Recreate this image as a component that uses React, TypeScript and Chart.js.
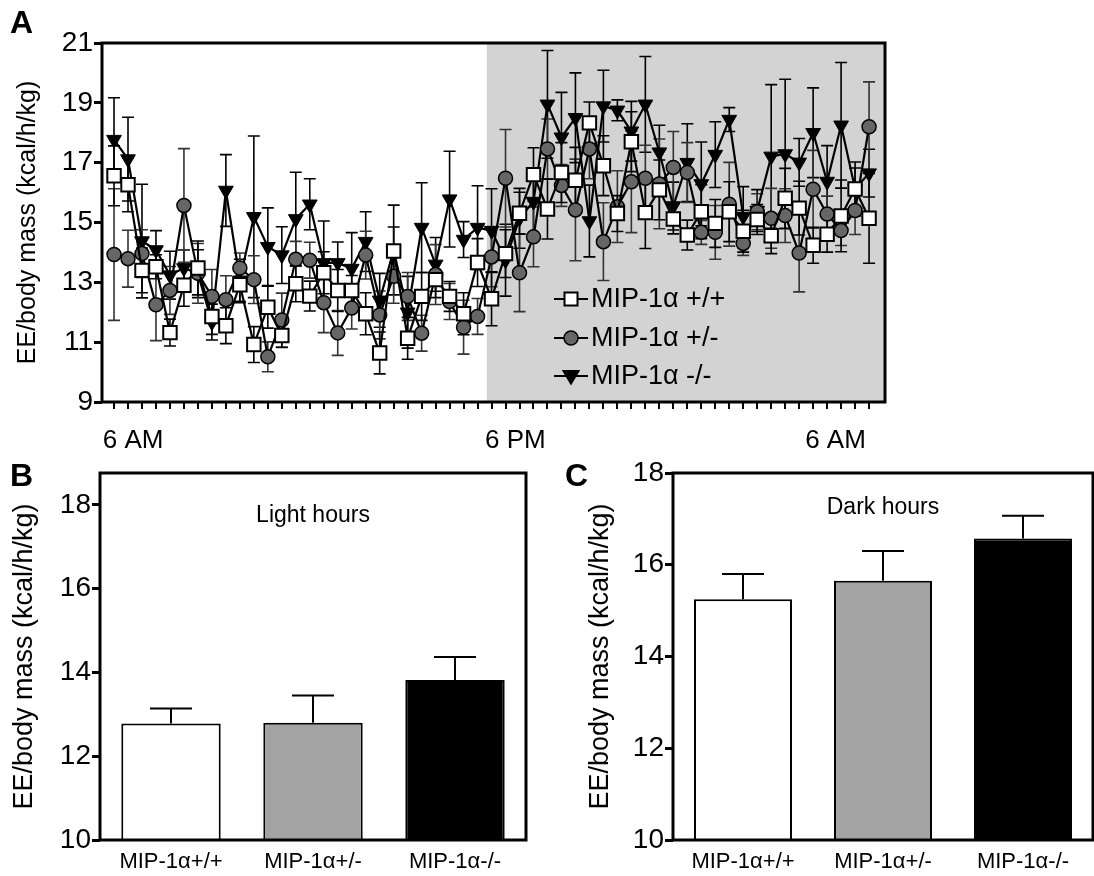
import React, { useEffect, useRef } from 'react';
import { Chart, registerables } from 'chart.js';
Chart.register(...registerables);

const FONT = '"Liberation Sans", Arial, Helvetica, sans-serif';

// ---------- Panel A data ----------
const timeIndex = Array.from({ length: 55 }, (_, i) => i);
const darkStart = 26.66;
const xTickLabels = ['6 AM', '6 PM', '6 AM'];
const xTickPos = [1.36, 28.7, 51.6];
const yTicksA = [9, 11, 13, 15, 17, 19, 21];

const wtMean = [16.56, 16.26, 13.40, 13.52, 11.32, 12.90, 13.48, 11.86, 11.55, 12.92, 10.92, 12.17, 11.22, 12.95, 12.54, 13.32, 12.73, 12.73, 11.95, 10.64, 14.05, 11.13, 12.53, 13.09, 12.53, 11.95, 13.66, 12.45, 13.96, 15.31, 16.60, 15.45, 16.67, 16.41, 18.33, 16.90, 15.30, 17.70, 15.33, 16.09, 15.12, 14.58, 15.36, 14.97, 15.36, 14.71, 15.10, 14.56, 15.81, 15.48, 14.24, 14.61, 15.22, 16.12, 15.14];
const wtErr = [1.0, 0.9, 0.75, 0.4, 0.45, 0.7, 0.9, 0.6, 0.6, 0.6, 0.6, 0.7, 0.4, 0.6, 0.5, 0.7, 0.7, 0.5, 0.7, 0.7, 0.8, 0.7, 0.8, 0.6, 0.5, 0.7, 0.8, 0.9, 0.8, 0.7, 0.9, 1.0, 1.0, 1.1, 0.7, 1.0, 0.6, 1.0, 1.2, 1.0, 0.5, 0.5, 0.9, 0.8, 1.0, 0.7, 0.5, 0.6, 1.0, 0.9, 0.6, 0.6, 1.2, 0.9, 1.5];
const hetMean = [13.93, 13.79, 13.96, 12.25, 12.73, 15.57, 13.30, 12.53, 12.42, 13.48, 13.09, 10.51, 11.74, 13.77, 13.74, 12.32, 11.31, 12.14, 13.91, 11.91, 13.20, 12.53, 11.30, 13.26, 12.36, 11.50, 11.86, 13.85, 16.48, 13.32, 14.52, 17.46, 16.24, 15.42, 17.46, 14.36, 15.53, 16.36, 16.48, 16.29, 16.84, 16.67, 14.67, 14.67, 15.61, 14.30, 15.36, 15.14, 15.23, 13.98, 16.11, 15.28, 14.73, 15.40, 18.20];
const hetErr = [2.2, 0.95, 0.8, 1.2, 0.8, 1.9, 1.0, 0.9, 0.8, 0.5, 0.8, 0.5, 0.9, 0.6, 0.6, 1.0, 0.75, 0.7, 0.8, 0.8, 0.9, 0.8, 0.6, 1.0, 0.6, 0.9, 0.6, 1.0, 1.63, 1.3, 1.0, 1.0, 0.7, 1.7, 1.0, 1.3, 1.2, 1.7, 1.1, 1.5, 1.2, 1.0, 0.4, 0.9, 1.4, 0.4, 0.6, 1.0, 0.9, 1.3, 1.3, 0.6, 0.5, 0.8, 1.5];
const koMean = [17.77, 17.12, 14.38, 14.08, 13.24, 13.48, 13.29, 11.67, 16.07, 13.07, 15.19, 14.19, 13.91, 15.12, 15.61, 13.65, 13.65, 13.46, 14.36, 12.40, 14.08, 12.00, 14.83, 13.60, 15.78, 14.43, 14.83, 14.73, 13.74, 15.14, 15.70, 18.95, 17.85, 18.50, 15.05, 18.89, 18.75, 18.05, 18.95, 17.35, 15.55, 17.00, 16.29, 17.27, 18.44, 15.20, 15.40, 17.21, 17.29, 17.01, 18.00, 16.37, 18.25, 16.12, 16.65];
const koErr = [1.4, 1.4, 1.9, 0.65, 0.8, 0.6, 0.8, 0.6, 1.2, 0.7, 2.7, 1.3, 0.95, 1.56, 0.85, 1.4, 0.7, 1.2, 1.0, 0.9, 1.5, 1.2, 1.5, 0.9, 1.6, 0.6, 1.4, 1.4, 1.2, 1.0, 1.1, 1.8, 1.5, 1.5, 1.2, 1.2, 0.35, 1.0, 1.6, 0.9, 0.8, 1.3, 1.4, 1.1, 0.4, 1.0, 0.7, 2.4, 2.5, 0.8, 1.5, 1.2, 2.1, 0.7, 0.8];
const seriesLabels = ['MIP-1\u03b1 +/+', 'MIP-1\u03b1 +/-', 'MIP-1\u03b1 -/-'];

// ---------- Panels B / C data ----------
const barCategories = ['MIP-1\u03b1+/+', 'MIP-1\u03b1+/-', 'MIP-1\u03b1-/-'];
const lightMean = [12.78, 12.80, 13.82];
const lightErr = [0.36, 0.65, 0.55];
const darkMean = [15.25, 15.65, 16.57];
const darkErr = [0.55, 0.65, 0.50];
const barTicks = [10, 12, 14, 16, 18];

const seriesMeans = [wtMean, hetMean, koMean];
const seriesErrs = [wtErr, hetErr, koErr];

type Marker = 'rect' | 'circle' | 'tri';
const markerKinds: Marker[] = ['rect', 'circle', 'tri'];

function drawMarker(ctx: CanvasRenderingContext2D, kind: Marker, x: number, y: number) {
  ctx.save();
  ctx.lineWidth = 2;
  ctx.strokeStyle = '#000';
  ctx.beginPath();
  if (kind === 'rect') {
    ctx.fillStyle = '#fff';
    ctx.rect(x - 6.5, y - 6.5, 13, 13);
  } else if (kind === 'circle') {
    ctx.fillStyle = '#666';
    ctx.lineWidth = 1.5;
    ctx.arc(x, y, 7, 0, Math.PI * 2);
  } else {
    ctx.fillStyle = '#000';
    ctx.moveTo(x - 7.5, y - 5);
    ctx.lineTo(x + 7.5, y - 5);
    ctx.lineTo(x, y + 7.5);
    ctx.closePath();
  }
  ctx.fill();
  ctx.stroke();
  ctx.restore();
}

function PanelA() {
  const ref = useRef<HTMLCanvasElement>(null);
  useEffect(() => {
    if (!ref.current) return;
    const shade = {
      id: 'shade',
      beforeDatasetsDraw(chart: any) {
        const { ctx, chartArea, scales } = chart;
        const x0 = scales.x.getPixelForValue(darkStart);
        ctx.save();
        ctx.fillStyle = '#d3d3d3';
        ctx.fillRect(x0, chartArea.top, chartArea.right - x0, chartArea.bottom - chartArea.top);
        ctx.restore();
      },
    };
    const errBars = {
      id: 'errBars',
      beforeDatasetsDraw(chart: any) {
        const { ctx, scales } = chart;
        const colors = ['#000', '#333', '#000'];
        for (let d = seriesMeans.length - 1; d >= 0; d--) {
          const means = seriesMeans[d];
          const errs = seriesErrs[d];
          ctx.save();
          ctx.strokeStyle = colors[d];
          ctx.lineWidth = 1.6;
          ctx.beginPath();
          means.forEach((m, i) => {
            const px = scales.x.getPixelForValue(timeIndex[i]);
            const t = scales.y.getPixelForValue(m + errs[i]);
            const b = scales.y.getPixelForValue(m - errs[i]);
            ctx.moveTo(px, t); ctx.lineTo(px, b);
            ctx.moveTo(px - 6, t); ctx.lineTo(px + 6, t);
            ctx.moveTo(px - 6, b); ctx.lineTo(px + 6, b);
          });
          ctx.stroke();
          ctx.restore();
        }
      },
    };
    const frame = {
      id: 'frame',
      afterDraw(chart: any) {
        const { ctx, chartArea, scales } = chart;
        ctx.save();
        ctx.strokeStyle = '#000';
        ctx.lineWidth = 3;
        ctx.strokeRect(chartArea.left, chartArea.top, chartArea.right - chartArea.left, chartArea.bottom - chartArea.top);
        ctx.fillStyle = '#000';
        ctx.font = `26px ${FONT}`;
        ctx.textAlign = 'center';
        ctx.textBaseline = 'middle';
        xTickLabels.forEach((lab, i) => {
          ctx.fillText(lab, scales.x.getPixelForValue(xTickPos[i]), chartArea.bottom + 39);
        });
        // legend
        const lx = chartArea.left + 452;
        const rows = [256, 295, 333];
        ctx.textAlign = 'left';
        ctx.font = `27px ${FONT}`;
        seriesLabels.forEach((lab, i) => {
          const yy = chartArea.top + rows[i];
          ctx.save();
          ctx.lineWidth = 2;
          ctx.strokeStyle = '#000';
          ctx.beginPath();
          ctx.moveTo(lx, yy); ctx.lineTo(lx + 34, yy);
          ctx.stroke();
          ctx.restore();
          drawMarker(ctx, markerKinds[i], lx + 17, yy);
          ctx.fillStyle = '#000';
          ctx.fillText(lab, lx + 37, yy + 1);
        });
        ctx.restore();
      },
    };
    const mk = (i: number) => timeIndex.map((x, j) => ({ x, y: seriesMeans[i][j] }));
    const chart = new Chart(ref.current, {
      type: 'line',
      data: {
        datasets: [
          { label: seriesLabels[0], data: mk(0), pointStyle: 'rect', pointRadius: 9.5, pointBackgroundColor: '#fff', pointBorderColor: '#000', pointBorderWidth: 2, borderColor: '#000', borderWidth: 2.2, tension: 0 },
          { label: seriesLabels[1], data: mk(1), pointStyle: 'circle', pointRadius: 7, pointBackgroundColor: '#666', pointBorderColor: '#000', pointBorderWidth: 1.5, borderColor: '#000', borderWidth: 2.2, tension: 0 },
          { label: seriesLabels[2], data: mk(2), pointStyle: 'triangle', pointRotation: 180, pointRadius: 8.5, pointBackgroundColor: '#000', pointBorderColor: '#000', pointBorderWidth: 1, borderColor: '#000', borderWidth: 2.2, tension: 0 },
        ] as any,
      },
      options: {
        animation: false,
        responsive: false,
        events: [],
        layout: { padding: { left: 0, right: 209, top: 43, bottom: 0 } },
        scales: {
          x: {
            type: 'linear',
            min: -0.86,
            max: 55.14,
            afterBuildTicks: (ax: any) => { ax.ticks = timeIndex.map((v) => ({ value: v })); },
            afterFit: (s: any) => { s.height = 58; },
            grid: { drawOnChartArea: false, tickLength: 7, lineWidth: 2, color: '#000' },
            border: { display: false },
            ticks: { display: false, autoSkip: false },
          },
          y: {
            min: 9,
            max: 21,
            afterBuildTicks: (ax: any) => { ax.ticks = yTicksA.map((v) => ({ value: v })); },
            afterFit: (s: any) => { s.width = 102; },
            grid: { drawOnChartArea: false, tickLength: 8, lineWidth: 3, color: '#000' },
            border: { display: false },
            ticks: { font: { family: FONT, size: 28 }, color: '#000', padding: 1 },
            title: { display: true, text: 'EE/body mass (kcal/h/kg)', font: { family: FONT, size: 25 }, color: '#000', padding: { top: 13, bottom: 0 } },
          },
        },
        plugins: { legend: { display: false }, tooltip: { enabled: false } },
      } as any,
      plugins: [shade, errBars, frame],
    });
    return () => chart.destroy();
  }, []);
  return <canvas ref={ref} width={1094} height={460} style={{ position: 'absolute', left: 0, top: 0, width: 1094, height: 460 }} />;
}

function BarPanel(props: { means: number[]; errs: number[]; title: string; left: number; axisWidth: number; titlePad: number; padRight: number; yMax: number; titleDy: number }) {
  const ref = useRef<HTMLCanvasElement>(null);
  useEffect(() => {
    if (!ref.current) return;
    const { means, errs, title } = props;
    const deco = {
      id: 'deco',
      afterDatasetsDraw(chart: any) {
        const { ctx, scales } = chart;
        ctx.save();
        ctx.strokeStyle = '#000';
        ctx.lineWidth = 2;
        ctx.beginPath();
        means.forEach((m, i) => {
          const px = scales.x.getPixelForValue(i);
          const t = scales.y.getPixelForValue(m + errs[i]);
          const b = scales.y.getPixelForValue(m);
          ctx.moveTo(px, t); ctx.lineTo(px, b);
          ctx.moveTo(px - 21, t); ctx.lineTo(px + 21, t);
        });
        ctx.stroke();
        ctx.restore();
      },
      afterDraw(chart: any) {
        const { ctx, chartArea } = chart;
        ctx.save();
        ctx.strokeStyle = '#000';
        ctx.lineWidth = 3;
        ctx.strokeRect(chartArea.left, chartArea.top, chartArea.right - chartArea.left, chartArea.bottom - chartArea.top);
        ctx.fillStyle = '#000';
        ctx.font = `23px ${FONT}`;
        ctx.textAlign = 'center';
        ctx.textBaseline = 'middle';
        ctx.fillText(title, (chartArea.left + chartArea.right) / 2, chartArea.top + props.titleDy);
        ctx.restore();
      },
    };
    const chart = new Chart(ref.current, {
      type: 'bar',
      data: {
        labels: barCategories,
        datasets: [
          { data: means, backgroundColor: ['#fff', '#a3a3a3', '#000'], borderColor: '#000', borderWidth: 2, barPercentage: 0.7, categoryPercentage: 1 },
        ],
      },
      options: {
        animation: false,
        responsive: false,
        events: [],
        layout: { padding: { left: 0, right: props.padRight, top: 18, bottom: 0 } },
        scales: {
          x: {
            afterFit: (s: any) => { s.height = 36; },
            grid: { display: false, drawTicks: false },
            border: { display: false },
            ticks: { font: { family: FONT, size: 22 }, color: '#000', padding: 9 },
          },
          y: {
            min: 10,
            max: props.yMax,
            afterBuildTicks: (ax: any) => { ax.ticks = barTicks.map((v) => ({ value: v })); },
            afterFit: (s: any) => { s.width = props.axisWidth; },
            grid: { drawOnChartArea: false, tickLength: 8, lineWidth: 3, color: '#000' },
            border: { display: false },
            ticks: { font: { family: FONT, size: 28 }, color: '#000', padding: 1 },
            title: { display: true, text: 'EE/body mass (kcal/h/kg)', font: { family: FONT, size: 27 }, color: '#000', padding: { top: props.titlePad, bottom: 0 } },
          },
        },
        plugins: { legend: { display: false }, tooltip: { enabled: false } },
      } as any,
      plugins: [deco],
    });
    return () => chart.destroy();
  }, []);
  return <canvas ref={ref} width={547} height={421} style={{ position: 'absolute', left: props.left, top: 455, width: 547, height: 421 }} />;
}

const letterStyle: React.CSSProperties = { position: 'absolute', fontFamily: FONT, fontWeight: 'bold', fontSize: 32, lineHeight: '32px', color: '#000' };

export default function App() {
  return (
    <div style={{ position: 'absolute', left: 0, top: 0, width: 1094, height: 876, background: '#fff', overflow: 'hidden' }}>
      <PanelA />
      <BarPanel means={lightMean} errs={lightErr} title="Light hours" left={0} axisWidth={100} titlePad={8} padRight={21} yMax={18.76} titleDy={43} />
      <BarPanel means={darkMean} errs={darkErr} title="Dark hours" left={547} axisWidth={126} titlePad={37} padRight={1} yMax={18} titleDy={35} />
      <div style={{ ...letterStyle, left: 10, top: 6 }}>A</div>
      <div style={{ ...letterStyle, left: 10, top: 459 }}>B</div>
      <div style={{ ...letterStyle, left: 565, top: 459 }}>C</div>
    </div>
  );
}
